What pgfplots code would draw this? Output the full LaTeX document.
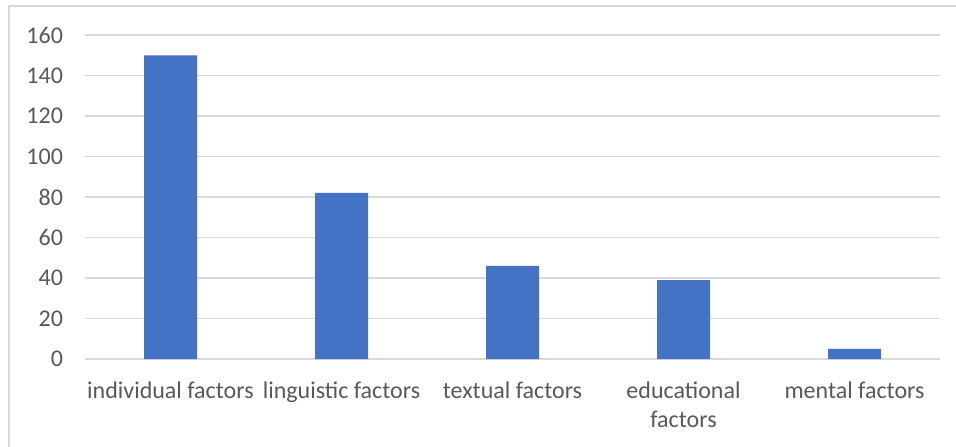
\documentclass[border=0pt]{standalone}
\usepackage{fontspec}
\setmainfont{Carlito}
\usepackage{pgfplots}
\pgfplotsset{compat=1.18}
\definecolor{barblue}{HTML}{4472C4}
\definecolor{gridgray}{HTML}{D9D9D9}
\definecolor{txtgray}{HTML}{595959}
\begin{document}
\begin{tikzpicture}[x=1pt,y=1pt]
  \useasboundingbox (0,0) rectangle (478,223);
  \clip (0,0) rectangle (478,223);
  \draw[gridgray, line width=0.75pt] (4.5,-5) rectangle (485,220);
  \begin{axis}[
      at={(42.5pt,43.5pt)}, anchor=south west,
      scale only axis,
      width=427.5pt, height=162pt,
      xmin=-0.5, xmax=4.5,
      ymin=0, ymax=160,
      ytick={0,20,...,160},
      xtick={0,1,2,3,4},
      xticklabels={individual factors, linguistic factors, textual factors, educational\\factors, mental factors},
      axis line style={draw=none},
      major tick length=0pt,
      ymajorgrids,
      grid style={gridgray, line width=0.75pt},
      tick label style={font=\fontsize{12}{14.5}\selectfont, text=txtgray},
      xticklabel style={align=center, yshift=-8pt},
      yticklabel style={xshift=-7.5pt},
      /pgf/number format/assume math mode=true,
    ]
    \addplot[ybar, bar width=26.5pt, fill=barblue, draw=none] coordinates {
      (0,150) (1,82) (2,46) (3,39) (4,5)
    };
  \end{axis}
\end{tikzpicture}
\end{document}
